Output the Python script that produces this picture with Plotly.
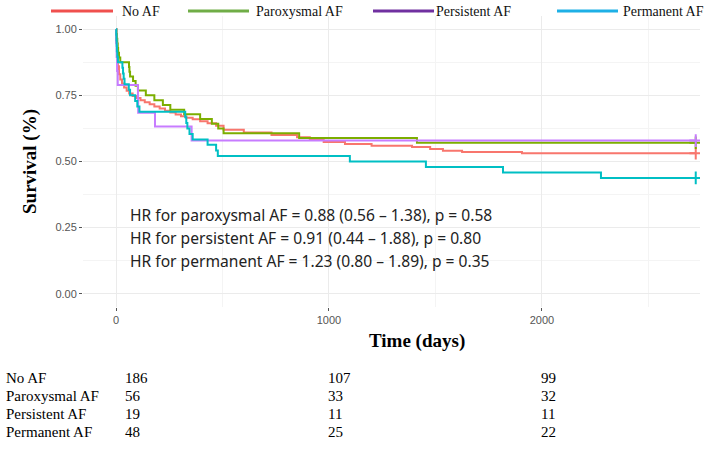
import plotly.graph_objects as go

# ---------------- data ----------------
groups = ["No AF", "Paroxysmal AF", "Persistent AF", "Permanent AF"]

noaf_t = [0, 2, 5, 9, 14, 20, 28, 38, 50, 62, 78, 95, 115, 135, 158, 180, 205, 230, 255, 280,
          305, 330, 360, 395, 430, 470, 505, 600, 730, 850, 910, 975, 1075, 1200, 1390, 1475,
          1535, 1625, 1906, 2722]
noaf_s = [1.0, 0.95, 0.90, 0.86, 0.83, 0.81, 0.795, 0.78, 0.767, 0.757, 0.748, 0.74, 0.732, 0.724,
          0.716, 0.708, 0.70, 0.692, 0.685, 0.678, 0.671, 0.665, 0.66, 0.652, 0.645, 0.635, 0.62,
          0.61, 0.60, 0.592, 0.585, 0.574, 0.566, 0.56, 0.555, 0.547, 0.541, 0.536, 0.531, 0.531]

parox_t = [0, 2, 4, 6, 8, 10, 14, 20, 61, 63, 66, 80, 92, 103, 140, 180, 220, 255, 320, 395,
           450, 480, 505, 860, 1413, 2722]
parox_s = [1.0, 0.982, 0.964, 0.946, 0.929, 0.911, 0.893, 0.875, 0.857, 0.839, 0.821, 0.804, 0.786,
           0.768, 0.75, 0.732, 0.714, 0.696, 0.679, 0.661, 0.643, 0.625, 0.607, 0.589, 0.571, 0.571]

pers_t = [0, 1, 3, 5, 8, 103, 104, 183, 355, 2722]
pers_s = [1.0, 0.947, 0.895, 0.842, 0.789, 0.737, 0.684, 0.632, 0.579, 0.579]

perm_t = [0, 1, 2, 3, 4, 6, 9, 30, 33, 36, 40, 60, 66, 90, 100, 110, 325, 330, 335, 345, 360,
          430, 470, 478, 1098, 1455, 1817, 2277, 2722]
perm_s = [1.0, 0.979, 0.958, 0.938, 0.917, 0.896, 0.875, 0.854, 0.833, 0.813, 0.792, 0.771, 0.75,
          0.729, 0.708, 0.688, 0.667, 0.646, 0.625, 0.604, 0.583, 0.563, 0.542, 0.521, 0.50, 0.479,
          0.458, 0.438, 0.438]

x_ticks = [0, 1000, 2000]
y_ticks = [0.0, 0.25, 0.5, 0.75, 1.0]

risk_times = [0, 1000, 2000]
risk_noaf = [186, 107, 99]
risk_parox = [56, 33, 32]
risk_pers = [19, 11, 11]
risk_perm = [48, 25, 22]

hr_lines = [
    "HR for paroxysmal AF = 0.88 (0.56 – 1.38), p = 0.58",
    "HR for persistent AF = 0.91 (0.44 – 1.88), p = 0.80",
    "HR for permanent AF = 1.23 (0.80 – 1.89), p = 0.35",
]

# ---------------- styling ----------------
W, H = 709, 449
ML, MR, MT, MB = 83, 9, 16, 142
PW, PH = W - ML - MR, H - MT - MB

curve_colors = ["#F8766D", "#7CAE00", "#C77CFF", "#00BFC4"]
legend_colors = ["#F0504E", "#70AD47", "#7030A0", "#1EB0E6"]


def xp(px):
    return (px - ML) / PW


def yp(py):
    return (H - MB - py) / PH


fig = go.Figure()
series = [(noaf_t, noaf_s), (parox_t, parox_s), (pers_t, pers_s), (perm_t, perm_s)]
for name, (t, s), c in zip(groups, series, curve_colors):
    fig.add_trace(go.Scatter(x=t, y=s, mode="lines", line=dict(color=c, width=2, shape="hv"),
                             name=name, showlegend=False, hoverinfo="skip"))
    fig.add_trace(go.Scatter(x=[t[-1]], y=[s[-1]], mode="markers",
                             marker=dict(symbol="cross-thin", size=9, line=dict(color=c, width=2)),
                             showlegend=False, hoverinfo="skip"))

shapes = []
annotations = []

# legend (drawn manually to match the reference)
leg_line_px = [(51, 113), (188, 249), (373, 434), (557, 618)]
leg_text_px = [120, 254, 434, 621]
for name, (a, b), tx, c in zip(groups, leg_line_px, leg_text_px, legend_colors):
    shapes.append(dict(type="line", xref="paper", yref="paper", x0=xp(a), x1=xp(b),
                       y0=yp(11), y1=yp(11), line=dict(color=c, width=3)))
    annotations.append(dict(text=name, xref="paper", yref="paper", x=xp(tx), y=yp(11),
                            xanchor="left", yanchor="middle", showarrow=False,
                            font=dict(family="Liberation Serif", size=14, color="#111")))

# HR text
for i, line in enumerate(hr_lines):
    annotations.append(dict(text=line, xref="paper", yref="paper", x=xp(128), y=yp(215 + 23 * i),
                            xanchor="left", yanchor="middle", showarrow=False,
                            font=dict(family="Noto Sans", size=15.6, color="#222")))

# axis titles
annotations.append(dict(text="<b>Time (days)</b>", xref="paper", yref="paper", x=xp(417), y=yp(341),
                        xanchor="center", yanchor="middle", showarrow=False,
                        font=dict(family="Liberation Serif", size=19, color="#000")))
annotations.append(dict(text="<b>Survival (%)</b>", xref="paper", yref="paper", x=xp(30), y=yp(162),
                        xanchor="center", yanchor="middle", showarrow=False, textangle=-90,
                        font=dict(family="Liberation Serif", size=19, color="#000")))

# risk table
risk_rows = [risk_noaf, risk_parox, risk_pers, risk_perm]
col_shift = [7, -3, -3]
for r, (name, vals) in enumerate(zip(groups, risk_rows)):
    y_px = 378 + 18 * r
    annotations.append(dict(text=name, xref="paper", yref="paper", x=xp(4), y=yp(y_px),
                            xanchor="left", yanchor="middle", showarrow=False,
                            font=dict(family="Liberation Serif", size=15, color="#000")))
    for k, (tt, v) in enumerate(zip(risk_times, vals)):
        annotations.append(dict(text=str(v), xref="x", yref="paper", x=tt, y=yp(y_px),
                                xanchor="left", yanchor="middle", showarrow=False, xshift=col_shift[k],
                                font=dict(family="Liberation Serif", size=15, color="#000")))

fig.update_layout(
    width=W, height=H,
    margin=dict(l=ML, r=MR, t=MT, b=MB, pad=0),
    plot_bgcolor="white", paper_bgcolor="white",
    showlegend=False,
    shapes=shapes, annotations=annotations,
    xaxis=dict(range=[-155, 2742], tickvals=x_ticks, ticktext=[str(v) for v in x_ticks],
               showgrid=True, gridcolor="#EBEBEB", gridwidth=1,
               minor=dict(dtick=500, tick0=0, showgrid=True, gridcolor="#F4F4F4", gridwidth=1),
               zeroline=False, showline=False, ticks="outside", ticklen=3, tickcolor="#555",
               tickfont=dict(family="Liberation Sans", size=11, color="#555")),
    yaxis=dict(range=[-0.05, 1.05], tickvals=y_ticks, ticktext=[f"{v:.2f}" for v in y_ticks],
               showgrid=True, gridcolor="#EBEBEB", gridwidth=1,
               minor=dict(dtick=0.125, tick0=0, showgrid=True, gridcolor="#F4F4F4", gridwidth=1),
               zeroline=False, showline=False, ticks="outside", ticklen=3, tickcolor="#555",
               tickfont=dict(family="Liberation Sans", size=11, color="#555")),
)

fig.write_html("out.html")
